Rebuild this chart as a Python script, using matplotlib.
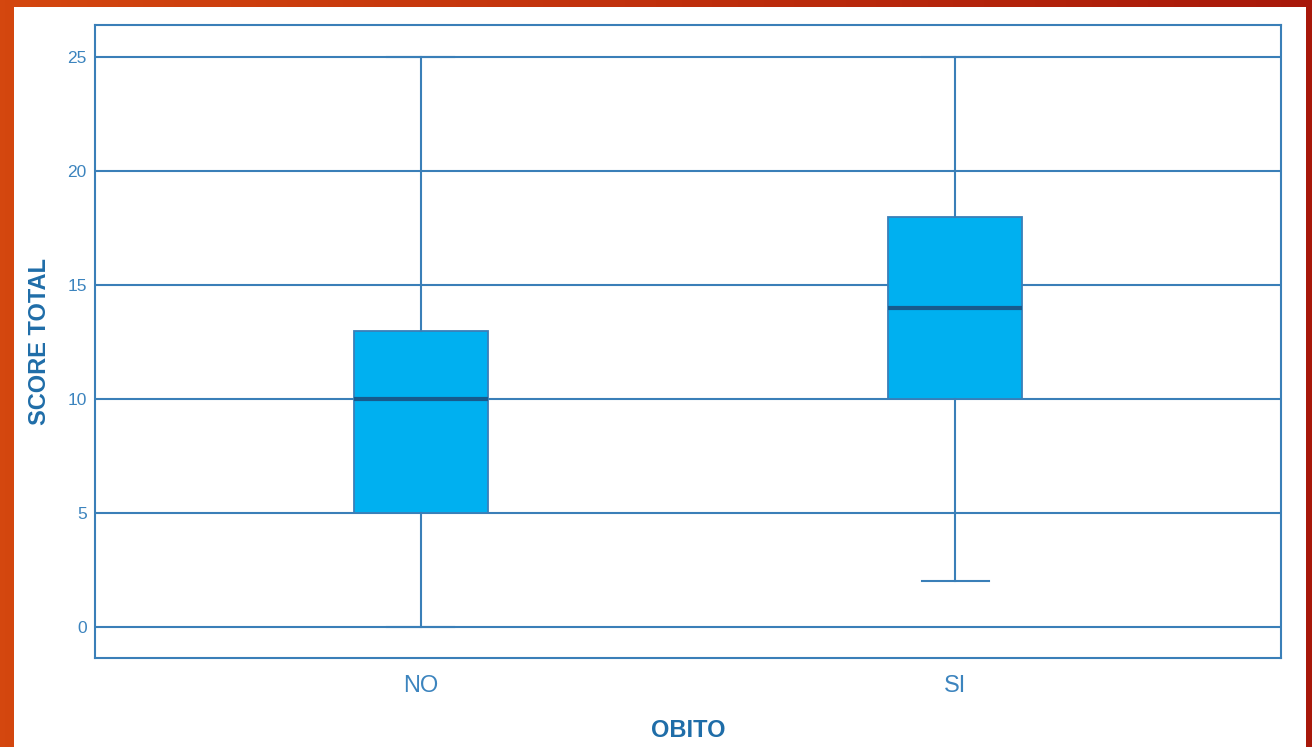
import numpy as np
import matplotlib
matplotlib.use('Agg')
import matplotlib.pyplot as plt
from matplotlib.patches import Rectangle
from matplotlib.colors import LinearSegmentedColormap

plt.rcParams['font.family'] = ['Liberation Sans', 'DejaVu Sans']

# box statistics
categories = ['NO', 'SI']
q1 = [5, 10]
medians = [10, 14]
q3 = [13, 18]
whis_lo = [0, 2]
whis_hi = [25, 25]
yticks = [0, 5, 10, 15, 20, 25]

line_col = '#3A7FB8'
text_col = '#3C84BE'
label_col = '#1F6DA8'

fig = plt.figure(figsize=(13.12, 7.47), dpi=100)

# orange/red slide frame behind the chart
bg = fig.add_axes([0, 0, 1, 1], zorder=-10)
grad = np.linspace(0, 1, 256).reshape(1, -1)
cmap = LinearSegmentedColormap.from_list('frame', ['#D4470F', '#C0300C', '#A8180A'])
bg.imshow(grad, aspect='auto', cmap=cmap, extent=[0, 1, 0, 1])
bg.set_axis_off()
bg.add_patch(Rectangle((14 / 1312, 0), (1306 - 14) / 1312, (747 - 7) / 747,
                       transform=bg.transAxes, facecolor='white', edgecolor='none'))

ax = fig.add_axes([95 / 1312, (747 - 658) / 747, (1281 - 95) / 1312, (658 - 25) / 747])
ax.set_facecolor('white')

stats = []
for i, name in enumerate(categories):
    stats.append({'label': name, 'q1': q1[i], 'med': medians[i], 'q3': q3[i],
                  'whislo': whis_lo[i], 'whishi': whis_hi[i], 'fliers': []})

ax.bxp(stats, positions=[1, 2], widths=0.25, patch_artist=True, showfliers=False,
       capwidths=0.125,
       boxprops=dict(facecolor='#00B0F0', edgecolor=line_col, linewidth=1.3),
       medianprops=dict(color='#175A8C', linewidth=3),
       whiskerprops=dict(color=line_col, linewidth=1.5),
       capprops=dict(color=line_col, linewidth=1.5),
       zorder=3)

ax.set_xlim(0.39, 2.61)
ax.set_ylim(-1.36, 26.4)
ax.set_yticks(yticks)
ax.yaxis.grid(True, color=line_col, linewidth=1.5, zorder=0)
ax.set_axisbelow(True)

for s in ax.spines.values():
    s.set_color(line_col)
    s.set_linewidth(1.5)

ax.tick_params(axis='y', length=0, pad=6, labelsize=12.5, labelcolor=text_col)
ax.tick_params(axis='x', length=0, pad=12, labelsize=17, labelcolor=text_col)

ax.set_xlabel('OBITO', fontsize=17, fontweight='bold', color=label_col, labelpad=16)
ax.set_ylabel('SCORE TOTAL', fontsize=17, fontweight='bold', color=label_col, labelpad=12)

fig.savefig('out.png', dpi=100)
